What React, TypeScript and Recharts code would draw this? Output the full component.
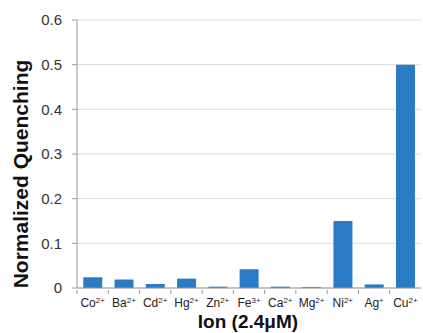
import { BarChart, Bar, XAxis, YAxis, CartesianGrid } from 'recharts';

const ions = ['Co', 'Ba', 'Cd', 'Hg', 'Zn', 'Fe', 'Ca', 'Mg', 'Ni', 'Ag', 'Cu'];
const charges = ['2+', '2+', '2+', '2+', '2+', '3+', '2+', '2+', '2+', '+', '2+'];
const quenching = [0.024, 0.019, 0.009, 0.021, 0.003, 0.042, 0.003, 0.002, 0.15, 0.008, 0.5];
const yTicks = [0, 0.1, 0.2, 0.3, 0.4, 0.5, 0.6];

const data = ions.map((ion, i) => ({ ion, charge: charges[i], value: quenching[i] }));

const W = 423;
const H = 333;
const LEFT = 77;
const RIGHT = 2;
const band = (W - LEFT - RIGHT) / ions.length;
const FONT = 'Liberation Sans, Arial, sans-serif';

const IonTick = (props: any) => {
  const { x, y, payload, index } = props;
  return (
    <g>
      <line x1={x - band / 2} x2={x - band / 2} y1={y - 6} y2={y - 2} stroke="#999" />
      <text x={x} y={y + 11} textAnchor="middle" fontSize={12} fill="#222" fontFamily={FONT}>
        {payload.value}
        <tspan fontSize={8} dy={-4}>{charges[index]}</tspan>
      </text>
    </g>
  );
};

const YTitle = () => (
  <text
    x={28}
    y={174}
    transform="rotate(-90 28 174)"
    textAnchor="middle"
    fontSize={21}
    fontWeight="bold"
    fill="#111"
    fontFamily={FONT}
  >
    Normalized Quenching
  </text>
);

const XTitle = () => (
  <text x={248} y={328} textAnchor="middle" fontSize={19} fontWeight="bold" fill="#111" fontFamily={FONT}>
    Ion (2.4μM)
  </text>
);

export default function App() {
  return (
    <div style={{ position: 'absolute', left: 0, top: 0, background: '#fff' }}>
      <BarChart
        width={W}
        height={H}
        data={data}
        margin={{ top: 20, right: RIGHT, bottom: 0, left: 0 }}
        barCategoryGap="20%"
      >
        <CartesianGrid vertical={false} stroke="#dcdcdc" />
        <XAxis
          dataKey="ion"
          interval={0}
          height={45}
          tickLine={false}
          axisLine={{ stroke: '#999' }}
          tick={<IonTick />}
          label={<XTitle />}
        />
        <YAxis
          width={LEFT}
          domain={[0, 0.6]}
          ticks={yTicks}
          interval={0}
          tickSize={5}
          tickMargin={10}
          tickLine={{ stroke: '#999' }}
          axisLine={{ stroke: '#999' }}
          tickFormatter={(v: number) => (v === 0 ? '0' : v.toFixed(1))}
          tick={{ fontSize: 15, fill: '#333', fontFamily: FONT }}
          label={<YTitle />}
        />
        <Bar dataKey="value" fill="#2a7bc6" isAnimationActive={false} />
      </BarChart>
    </div>
  );
}
